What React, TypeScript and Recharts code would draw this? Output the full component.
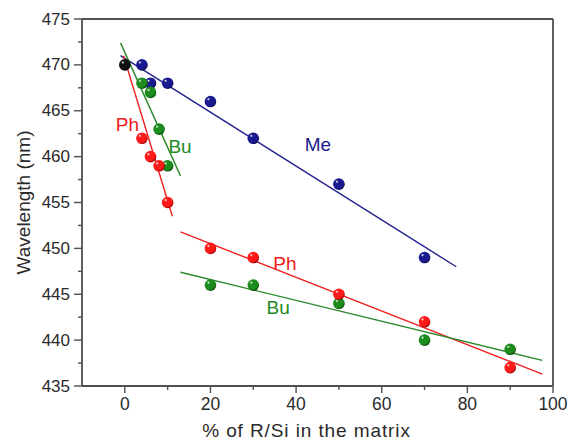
import React from 'react';
import { ComposedChart, XAxis, YAxis, Scatter, ReferenceLine, ReferenceDot } from 'recharts';

const meX = [4, 6, 10, 20, 30, 50, 70];
const meY = [470, 468, 468, 466, 462, 457, 449];
const buX = [4, 6, 8, 10, 20, 30, 50, 70, 90];
const buY = [468, 467, 463, 459, 446, 446, 444, 440, 439];
const phX = [4, 6, 8, 10, 20, 30, 50, 70, 90];
const phY = [462, 460, 459, 455, 450, 449, 445, 442, 437];
const originX = [0];
const originY = [470];

const meFit = [{ x: -1, y: 471 }, { x: 77.4, y: 448 }];
const buFitSteep = [{ x: -1, y: 472.4 }, { x: 13, y: 457.9 }];
const phFitSteep = [{ x: -0.3, y: 471 }, { x: 11.1, y: 453.5 }];
const phFitFlat = [{ x: 13, y: 451.8 }, { x: 97.5, y: 436.3 }];
const buFitFlat = [{ x: 13, y: 447.4 }, { x: 97.5, y: 437.8 }];

const xTicks = [0, 10, 20, 30, 40, 50, 60, 70, 80, 90, 100];
const yTicks = [435, 437.5, 440, 442.5, 445, 447.5, 450, 452.5, 455, 457.5, 460, 462.5, 465, 467.5, 470, 472.5, 475];

const labels = [
  { x: 45.1, y: 461.3, text: 'Me', color: '#1c1c8a' },
  { x: 0.6, y: 463.5, text: 'Ph', color: '#ee1c1c' },
  { x: 12.9, y: 461.1, text: 'Bu', color: '#1f8a1f' },
  { x: 37.4, y: 448.4, text: 'Ph', color: '#ee1c1c' },
  { x: 35.8, y: 443.6, text: 'Bu', color: '#1f8a1f' },
];

const toPts = (xs: number[], ys: number[]) => xs.map((x, i) => ({ x, y: ys[i] }));

const AXIS = '#505050';
const TXT = '#2a2a2a';
const FONT = '"Liberation Sans", Arial, sans-serif';
const TS = 6;
const TM = 3;

const YTick = (p: any) => {
  const { x, y, payload } = p;
  const ax = x + TS + TM;
  const v = payload.value;
  const major = Math.abs(v % 5) < 1e-6;
  return (
    <g>
      <line x1={ax} x2={ax - (major ? 8 : 4)} y1={y} y2={y} stroke={AXIS} strokeWidth={1.4} />
      {major && (
        <text x={ax - 12} y={y} textAnchor="end" dominantBaseline="central" fill={TXT} fontSize={17} fontFamily={FONT}>
          {v}
        </text>
      )}
    </g>
  );
};

const XTick = (p: any) => {
  const { x, y, payload } = p;
  const ay = y - TS - TM;
  const v = payload.value;
  const major = v % 20 === 0;
  return (
    <g>
      <line x1={x} x2={x} y1={ay} y2={ay + (major ? 7 : 4)} stroke={AXIS} strokeWidth={1.4} />
      {major && (
        <text x={x} y={ay + 18} textAnchor="middle" dominantBaseline="central" fill={TXT} fontSize={17.5} fontFamily={FONT}>
          {v}
        </text>
      )}
    </g>
  );
};

const makeBall = (id: string) => (p: any) => {
  const { cx, cy } = p;
  if (cx == null || cy == null) return <g />;
  return <circle cx={cx} cy={cy} r={5.8} fill={`url(#${id})`} />;
};

const Grad = ({ id, base, dark }: { id: string; base: string; dark: string }) => (
  <radialGradient id={id} cx="0.38" cy="0.35" r="0.65" fx="0.32" fy="0.28">
    <stop offset="0%" stopColor="#ffffff" />
    <stop offset="22%" stopColor={base} />
    <stop offset="80%" stopColor={base} />
    <stop offset="100%" stopColor={dark} />
  </radialGradient>
);

export default function App() {
  return (
    <div style={{ position: 'absolute', left: 0, top: 0, width: 572, height: 442, background: '#fff' }}>
      <ComposedChart width={572} height={442} margin={{ top: 19, right: 19, bottom: 0, left: 0 }}>
        <defs>
          <Grad id="gMe" base="#1a1a90" dark="#0a0a50" />
          <Grad id="gBu" base="#1c8c1c" dark="#0c4c0c" />
          <Grad id="gPh" base="#ff1a1a" dark="#a00000" />
          <Grad id="gO" base="#111111" dark="#000000" />
        </defs>
        <XAxis
          type="number"
          dataKey="x"
          domain={[-10, 100]}
          ticks={xTicks}
          interval={0}
          allowDataOverflow
          height={56}
          tickSize={TS}
          tickMargin={TM}
          tickLine={false}
          tick={<XTick />}
          axisLine={{ stroke: AXIS, strokeWidth: 1.8 }}
          label={{ value: '% of R/Si in the matrix', position: 'insideBottom', offset: 5, dx: -11, fill: TXT, fontSize: 19, fontFamily: FONT, letterSpacing: 0.9 }}
        />
        <YAxis
          type="number"
          dataKey="y"
          domain={[435, 475]}
          ticks={yTicks}
          interval={0}
          allowDataOverflow
          width={82}
          tickSize={TS}
          tickMargin={TM}
          tickLine={false}
          tick={<YTick />}
          axisLine={{ stroke: AXIS, strokeWidth: 1.8 }}
          label={{ value: 'Wavelength (nm)', angle: -90, position: 'insideLeft', offset: 23, style: { textAnchor: 'middle' }, fill: TXT, fontSize: 19, fontFamily: FONT }}
        />
        <ReferenceLine y={475} stroke={AXIS} strokeWidth={1.8} />
        <ReferenceLine x={100} stroke={AXIS} strokeWidth={1.8} />
        <ReferenceLine segment={meFit} stroke="#23238e" strokeWidth={1.4} />
        <ReferenceLine segment={buFitSteep} stroke="#2a8a2a" strokeWidth={1.4} />
        <ReferenceLine segment={phFitSteep} stroke="#ee2222" strokeWidth={1.4} />
        <ReferenceLine segment={phFitFlat} stroke="#ee2222" strokeWidth={1.4} />
        <ReferenceLine segment={buFitFlat} stroke="#2a8a2a" strokeWidth={1.4} />
        <Scatter data={toPts(meX, meY)} shape={makeBall('gMe')} isAnimationActive={false} />
        <Scatter data={toPts(buX, buY)} shape={makeBall('gBu')} isAnimationActive={false} />
        <Scatter data={toPts(phX, phY)} shape={makeBall('gPh')} isAnimationActive={false} />
        <Scatter data={toPts(originX, originY)} shape={makeBall('gO')} isAnimationActive={false} />
        {labels.map((l, i) => (
          <ReferenceDot
            key={i}
            x={l.x}
            y={l.y}
            r={0}
            stroke="none"
            fill="none"
            label={{ value: l.text, position: 'center', fill: l.color, fontSize: 19, fontFamily: FONT }}
          />
        ))}
      </ComposedChart>
    </div>
  );
}
